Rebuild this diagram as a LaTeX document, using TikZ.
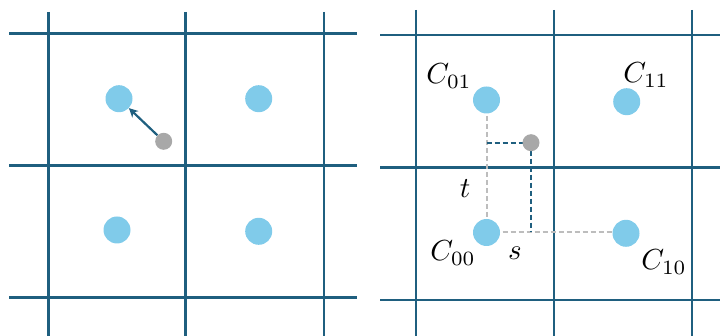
\documentclass[tikz,border=0pt]{standalone}
\usetikzlibrary{arrows.meta}
\definecolor{gridc}{HTML}{1F5F7F}
\definecolor{dotc}{HTML}{80CBEA}
\definecolor{grayc}{HTML}{A8A8A8}
\definecolor{dashg}{HTML}{BDBDBD}
\tikzset{
  gridline/.style={gridc,line width=2.4pt},
  cell/.style={circle,fill=dotc,inner sep=0pt,minimum size=27pt},
  sample/.style={circle,fill=grayc,inner sep=0pt,minimum size=17pt},
  lab/.style={inner sep=0pt,scale=2.9},
  gdash/.style={dashg,line width=2pt,dash pattern=on 5pt off 3pt},
  bdash/.style={gridc,line width=2pt,dash pattern=on 5pt off 3pt},
}
\begin{document}
\begin{tikzpicture}[x=1pt,y=-1pt]
\useasboundingbox (0,0) rectangle (720,336);
% left grid
\foreach \x in {48.3,185.3,324} \draw[gridline] (\x,12) -- (\x,336);
\foreach \y in {33.7,165.7,297.7} \draw[gridline] (9.3,\y) -- (357,\y);
% right grid
\foreach \x in {415.7,553.7,691.7} \draw[gridline] (\x,10) -- (\x,336);
\foreach \y in {35,167.7,300} \draw[gridline] (380,\y) -- (720,\y);
% left dots
\node[cell] (a01) at (119,98.7) {};
\node[cell] (a11) at (258.7,98.7) {};
\node[cell] (a00) at (117,230) {};
\node[cell] (a10) at (258.7,231.3) {};
\node[sample] (ap) at (163.7,141.3) {};
\draw[gridc,line width=2.2pt,-{Stealth[length=9pt,width=9pt]}] (ap) -- (a01);
% right dashed guides
\coordinate (tk) at (486.5,142.7);
\coordinate (sk) at (531,232.5);
\draw[gdash] (486.5,100) -- (486.5,232.5);
\draw[gdash] (486.5,232.5) -- (626,232.5);
\draw[bdash] (tk) -- (531,142.7);
\draw[bdash] (531,142.7) -- (sk);
% right dots
\node[cell] (c01) at (486.5,100) {};
\node[cell] (c11) at (626.7,101.7) {};
\node[cell] (c00) at (486.5,232.5) {};
\node[cell] (c10) at (626,233.3) {};
\node[sample] (bp) at (531,142.7) {};
% labels
\node[lab] at (449,76) {$C_{01}$};
\node[lab] at (646,75) {$C_{11}$};
\node[lab] at (453,253) {$C_{00}$};
\node[lab] at (664,262) {$C_{10}$};
\node[lab] at (465,189) {$t$};
\node[lab] at (515,253) {$s$};
\end{tikzpicture}
\end{document}
